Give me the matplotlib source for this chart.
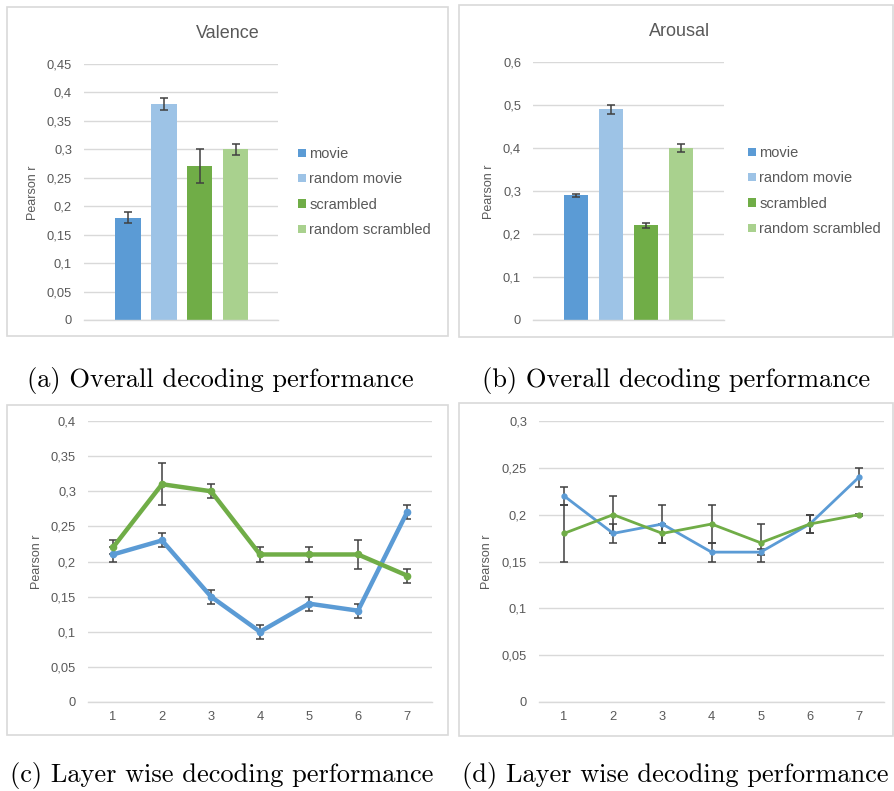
import matplotlib
matplotlib.use("Agg")
import matplotlib.pyplot as plt
from matplotlib.patches import Rectangle
from matplotlib.ticker import FuncFormatter, MultipleLocator
import numpy as np

# ---- data ----
conditions = ["movie", "random movie", "scrambled", "random scrambled"]
bar_colors = ["#5B9BD5", "#9DC3E6", "#70AD47", "#A9D18E"]

valence_r = [0.18, 0.38, 0.27, 0.30]
valence_err = [0.01, 0.01, 0.03, 0.01]

arousal_r = [0.29, 0.49, 0.22, 0.40]
arousal_err = [0.003, 0.01, 0.005, 0.01]

layers = [1, 2, 3, 4, 5, 6, 7]
val_movie = [0.21, 0.23, 0.15, 0.10, 0.14, 0.13, 0.27]
val_movie_err = [0.01, 0.01, 0.01, 0.01, 0.01, 0.01, 0.01]
val_scr = [0.22, 0.31, 0.30, 0.21, 0.21, 0.21, 0.18]
val_scr_err = [0.01, 0.03, 0.01, 0.01, 0.01, 0.02, 0.01]

aro_movie = [0.22, 0.18, 0.19, 0.16, 0.16, 0.19, 0.24]
aro_movie_err = [0.01, 0.01, 0.02, 0.01, 0.003, 0.01, 0.01]
aro_scr = [0.18, 0.20, 0.18, 0.19, 0.17, 0.19, 0.20]
aro_scr_err = [0.03, 0.02, 0.01, 0.02, 0.02, 0.01, 0.001]

captions = ["(a) Overall decoding performance", "(b) Overall decoding performance",
            "(c) Layer wise decoding performance", "(d) Layer wise decoding performance"]

# ---- styling ----
W, H = 894, 791
TXT = "#595959"
GRID = "#D9D9D9"
ERR = "#404040"
SANS = "Liberation Sans"

fig = plt.figure(figsize=(W / 100, H / 100), dpi=100)


def px_rect(x0, y0, x1, y1):
    return [x0 / W, 1 - y1 / H, (x1 - x0) / W, (y1 - y0) / H]


def comma_fmt(v, _):
    s = f"{round(v, 4):g}"
    return s.replace(".", ",")


def frame(x0, y0, x1, y1):
    fig.patches.append(Rectangle((x0 / W, 1 - y1 / H), (x1 - x0) / W, (y1 - y0) / H,
                                 transform=fig.transFigure, fill=False,
                                 edgecolor=GRID, linewidth=1.2))


def style_axes(ax, ymax, step, ysize=9.3):
    ax.set_ylim(0, ymax)
    ax.yaxis.set_major_locator(MultipleLocator(step))
    ax.yaxis.set_major_formatter(FuncFormatter(comma_fmt))
    ax.grid(axis="y", color=GRID, linewidth=1.0)
    ax.set_axisbelow(True)
    for s in ["top", "right", "left"]:
        ax.spines[s].set_visible(False)
    ax.spines["bottom"].set_color(GRID)
    ax.spines["bottom"].set_linewidth(1.0)
    ax.tick_params(axis="y", length=0, pad=8.6, labelsize=ysize, labelcolor=TXT)
    ax.tick_params(axis="x", length=0, pad=6.5, labelsize=ysize, labelcolor=TXT)
    for lab in ax.get_yticklabels() + ax.get_xticklabels():
        lab.set_family(SANS)


def bar_panel(rect, values, errs, ymax, step, xlim, title, title_xy, ylab_xy, leg_xy):
    ax = fig.add_axes(px_rect(*rect))
    x = np.arange(len(values))
    bars = ax.bar(x, values, width=0.7, color=bar_colors, zorder=2)
    ax.errorbar(x, values, yerr=errs, fmt="none", ecolor=ERR, elinewidth=1.1,
                capsize=3.0, capthick=1.1, zorder=3)
    ax.set_xlim(*xlim)
    ax.set_xticks([])
    style_axes(ax, ymax, step)
    fig.text(title_xy[0] / W, 1 - title_xy[1] / H, title, ha="center", va="center",
             fontsize=13, color=TXT, family=SANS)
    fig.text(ylab_xy[0] / W, 1 - ylab_xy[1] / H, "Pearson r", ha="center", va="center",
             rotation=90, fontsize=9, color=TXT, family=SANS)
    leg = ax.legend(bars, conditions, loc="center left",
                    bbox_to_anchor=(leg_xy[0] / W, 1 - leg_xy[1] / H),
                    bbox_transform=fig.transFigure, frameon=False,
                    handlelength=0.5, handleheight=0.5, handletextpad=0.25,
                    labelspacing=0.78, borderpad=0, prop={"family": SANS, "size": 10.5})
    for t in leg.get_texts():
        t.set_color(TXT)
    return ax


def line_panel(rect, series, ymax, step, lw, ms, ylab_xy):
    ax = fig.add_axes(px_rect(*rect))
    for vals, errs, color in series:
        ax.errorbar(layers, vals, yerr=errs, fmt="none", ecolor=ERR, elinewidth=1.1,
                    capsize=3.0, capthick=1.1, zorder=3)
        ax.plot(layers, vals, color=color, linewidth=lw, marker="o", markersize=ms,
                zorder=4)
    ax.set_xlim(0.49, 7.51)
    ax.set_xticks(layers)
    style_axes(ax, ymax, step)
    fig.text(ylab_xy[0] / W, 1 - ylab_xy[1] / H, "Pearson r", ha="center", va="center",
             rotation=90, fontsize=9, color=TXT, family=SANS)
    return ax


# panel frames
frame(7, 7, 448, 336)
frame(459, 5, 893, 337)
frame(7, 405, 448, 735)
frame(459, 403, 893, 736)

# (a) valence, (b) arousal
bar_panel((84, 64, 278, 320), valence_r, valence_err, 0.45, 0.05, (-1.22, 4.17),
          "Valence", (228, 34), (33, 193), (291, 192))
bar_panel((533, 62, 724, 320), arousal_r, arousal_err, 0.6, 0.1, (-1.23, 4.23),
          "Arousal", (680, 32), (489, 192), (741, 191))

# (c) layer-wise valence, (d) layer-wise arousal
line_panel((88, 421, 432, 702),
           [(val_movie, val_movie_err, "#5B9BD5"), (val_scr, val_scr_err, "#70AD47")],
           0.4, 0.05, 3.2, 4.5, (37, 562))
line_panel((539, 421, 884, 702),
           [(aro_movie, aro_movie_err, "#5B9BD5"), (aro_scr, aro_scr_err, "#70AD47")],
           0.3, 0.05, 2.0, 3.5, (487, 562))

# sub-figure captions
for text, (cx, cy) in zip(captions, [(220, 387), (676, 387), (222, 782), (675, 782)]):
    fig.text(cx / W, 1 - cy / H, text, ha="center", va="baseline", fontsize=19,
             family="cmr10", color="black")

fig.savefig("out.png", dpi=100)
